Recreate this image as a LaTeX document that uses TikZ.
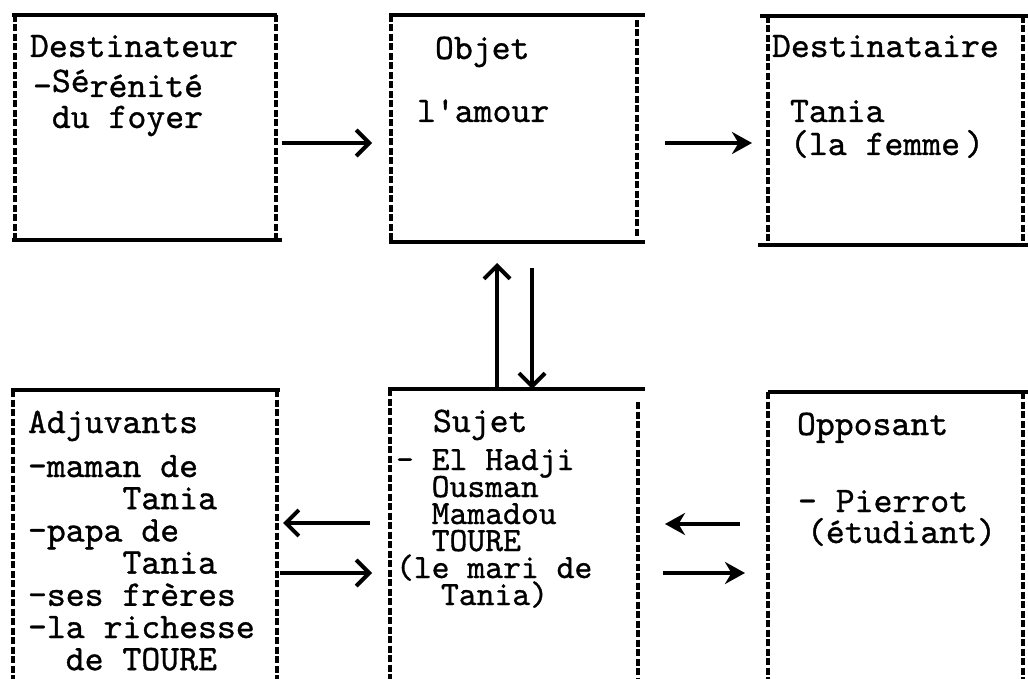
\documentclass[tikz,border=0pt]{standalone}
\usepackage{fontspec}
\newfontfamily\tw{lmmono10-regular}[Extension=.otf, FakeBold=0.9]
\usetikzlibrary{arrows.meta}
\newcommand{\Lines}[2]{\vtop{\baselineskip=#1\lineskiplimit=-100pt\lineskip=0pt #2}}
\tikzset{
  x=1pt, y=1pt,
  frame/.style={draw=none, inner sep=0pt, outer sep=0pt},
  solidedge/.style={line width=3.2pt},
  dashedge/.style={line width=3.6pt, dash pattern=on 7pt off 2.5pt},
  txt/.style={inner sep=0pt, outer sep=0pt, anchor=base west, font=\tw\fontsize{36}{36}\selectfont},
  stxt/.style={txt, font=\tw\fontsize{34}{34}\selectfont},
  arrb/.style={line width=3.6pt, -{Straight Barb[length=13pt,width=26pt,line width=4pt]}},
  arrf/.style={line width=3.6pt, -{Stealth[length=20pt,width=22pt]}},
}
\begin{document}
\begin{tikzpicture}
\useasboundingbox (0,0) rectangle (1028,-679);
\fill[white] (0,0) rectangle (1028,-679);

% box frames (as nodes)
\node[frame, minimum width=261, minimum height=225] (dest) at (145.5,-127.5) {};
\node[frame, minimum width=246, minimum height=227] (obj)  at (514,-128.5) {};
\node[frame, minimum width=255, minimum height=229] (dta)  at (895.5,-130.5) {};
\node[frame, minimum width=264, minimum height=289] (adj)  at (145,-534.5) {};
\node[frame, minimum width=248, minimum height=290] (suj)  at (514,-534) {};
\node[frame, minimum width=255, minimum height=287] (opp)  at (895.5,-535.5) {};

% Destinateur
\draw[solidedge] ([xshift=-3]dest.north west) -- ([xshift=1]dest.north east);
\draw[solidedge] ([xshift=-3]dest.south west) -- ([xshift=6]dest.south east);
\draw[dashedge] (dest.north west) -- (dest.south west);
\draw[dashedge] (dest.north east) -- (dest.south east);
% Objet
\draw[solidedge] ([xshift=-2]obj.north west) -- ([xshift=8]obj.north east);
\draw[solidedge] ([xshift=-2]obj.south west) -- ([xshift=8]obj.south east);
\draw[dashedge] (obj.north west) -- (obj.south west);
\draw[dashedge] ([yshift=-5]obj.north east) -- ([yshift=5]obj.south east);
% Destinataire
\draw[solidedge] ([xshift=-8]dta.north west) -- ([xshift=6]dta.north east);
\draw[solidedge] ([xshift=-10]dta.south west) -- ([xshift=6]dta.south east);
\draw[dashedge] (dta.north west) -- (dta.south west);
\draw[dashedge] (dta.north east) -- (dta.south east);
% Adjuvants
\draw[solidedge] ([xshift=-2]adj.north west) -- ([xshift=3]adj.north east);
\draw[dashedge] (adj.north west) -- (adj.south west);
\draw[dashedge] (adj.north east) -- (adj.south east);
% Sujet
\draw[solidedge] ([xshift=-2]suj.north west) -- ([xshift=7]suj.north east);
\draw[dashedge] (suj.north west) -- (suj.south west);
\draw[dashedge] ([yshift=-13]suj.north east) -- (suj.south east);
% Opposant
\draw[solidedge] (opp.north west) -- ([xshift=6]opp.north east);
\draw[dashedge] (opp.north west) -- (opp.south west);
\draw[dashedge] (opp.north east) -- (opp.south east);

% texts
\node[txt] (t1) at (30,-57) {Destinateur};
\node[txt] (c1) at (33,-97) {\Lines{31pt}{\hbox{-\raisebox{5pt}{Sé}rénité}\hbox{\hphantom{x}du foyer}}};
\node[txt] (t2) at (435,-59) {Objet};
\node[txt] (c2) at (417,-122) {l'amour};
\node[txt] (t3) at (772,-57) {Destinataire};
\node[txt] (c3) at (790,-122) {\Lines{33pt}{\hbox{Tania}\hbox{(la femme\kern5pt)}}};
\node[txt] (t4) at (28,-433) {Adjuvants};
\node[txt] (c4) at (28,-477) {\Lines{32.2pt}{%
  \hbox{-maman de}
  \hbox{\hphantom{xxxxx}Tania}
  \hbox{-papa de}
  \hbox{\hphantom{xxxxx}Tania}
  \hbox{-ses frères}
  \hbox{-la richesse}
  \hbox{\hphantom{xx}de TOURE}}};
\node[txt] (t5) at (433,-432) {Sujet};
\node[stxt] (c5) at (396,-470) {\Lines{27pt}{%
  \hbox{- El Hadji}
  \hbox{\hphantom{xx}Ousman}
  \hbox{\hphantom{xx}Mamadou}
  \hbox{\hphantom{xx}TOURE}
  \hbox{(le mari de}
  \hbox{\hspace*{45pt}Tania)}}};
\node[txt] (t6) at (797,-435) {Opposant};
\node[txt] (c6) at (798,-512) {\Lines{31pt}{%
  \hbox{- Pierrot}
  \hbox{\hspace*{9pt}(étudiant)}}};

% connectors
\draw[arrb] ([shift={(6,-15.5)}]dest.east) -- ([shift={(-19,-14.5)}]obj.west);
\draw[arrf] ([shift={(28,-14.5)}]obj.east) -- ([shift={(-16,-12.5)}]dta.west);
\draw[arrb] ([shift={(-17,0)}]suj.north) -- ([shift={(-17,-21)}]obj.south);
\draw[arrb] ([shift={(18,-26)}]obj.south) -- ([shift={(18,0)}]suj.north);
\draw[arrb] ([shift={(-20,11)}]suj.west) -- ([shift={(6,11.5)}]adj.east);
\draw[arrb] ([shift={(3,-38.5)}]adj.east) -- ([shift={(-18,-39)}]suj.west);
\draw[arrf] ([shift={(-28,11.5)}]opp.west) -- ([shift={(27,10)}]suj.east);
\draw[arrf] ([shift={(25,-39)}]suj.east) -- ([shift={(-23,-37.5)}]opp.west);
\end{tikzpicture}
\end{document}
